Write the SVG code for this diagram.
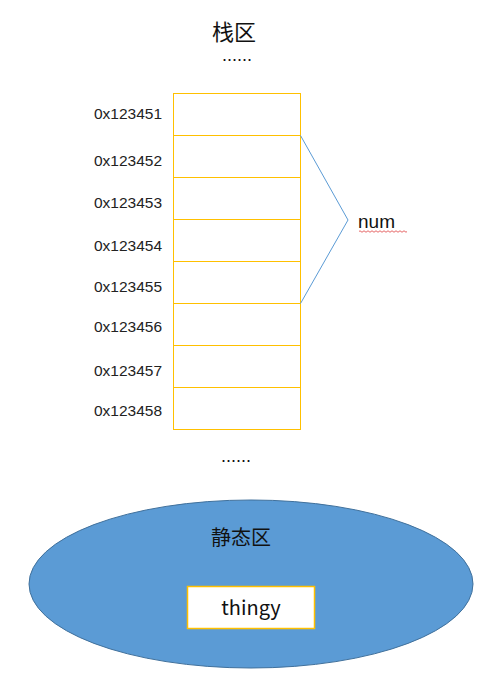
<svg xmlns="http://www.w3.org/2000/svg" width="493" height="691" viewBox="0 0 493 691">
<style>
.cell{fill:#fff;stroke:#FFC000;stroke-width:1}
.addr{font-family:"Liberation Sans","Noto Sans CJK SC",sans-serif;font-size:15.5px;fill:#222;text-anchor:end}
.t{font-family:"Noto Sans CJK SC","Liberation Sans",sans-serif;fill:#111;text-anchor:middle}
.dots{font-family:"Liberation Sans",sans-serif;font-size:18px;fill:#111;text-anchor:middle}
</style>
<rect width="493" height="691" fill="#fff"/>
<g id="title-stack"><text class="t" x="234" y="40" font-size="22">栈区</text></g>
<g id="dots-top"><text class="dots" x="237" y="61">......</text></g>
<g id="stack">
<rect class="cell" x="173.5" y="93.5" width="127" height="42"/>
<rect class="cell" x="173.5" y="135.5" width="127" height="42"/>
<rect class="cell" x="173.5" y="177.5" width="127" height="42"/>
<rect class="cell" x="173.5" y="219.5" width="127" height="42"/>
<rect class="cell" x="173.5" y="261.5" width="127" height="42"/>
<rect class="cell" x="173.5" y="303.5" width="127" height="42"/>
<rect class="cell" x="173.5" y="345.5" width="127" height="42"/>
<rect class="cell" x="173.5" y="387.5" width="127" height="42"/>
</g>
<g id="addresses">
<text class="addr" x="162" y="119">0x123451</text>
<text class="addr" x="162" y="166">0x123452</text>
<text class="addr" x="162" y="208">0x123453</text>
<text class="addr" x="162" y="251">0x123454</text>
<text class="addr" x="162" y="292">0x123455</text>
<text class="addr" x="162" y="332">0x123456</text>
<text class="addr" x="162" y="376">0x123457</text>
<text class="addr" x="162" y="416">0x123458</text>
</g>
<g id="connectors">
<polyline points="300.5,135.5 348,220 300.5,303.5" fill="none" stroke="#5B9BD5" stroke-width="1"/>
</g>
<g id="num">
<text x="358" y="228" font-family="Liberation Sans,sans-serif" font-size="19" fill="#111">num</text>
<path d="M359,231.5 q1,-1.5 2,0 t2,0 t2,0 t2,0 t2,0 t2,0 t2,0 t2,0 t2,0 t2,0 t2,0 t2,0 t2,0 t2,0 t2,0 t2,0 t2,0 t2,0 t2,0 t2,0 t2,0 t2,0 t2,0 t2,0" fill="none" stroke="#E04040" stroke-width="0.8"/>
</g>
<g id="dots-bottom"><text class="dots" x="236" y="462">......</text></g>
<g id="static">
<ellipse cx="251" cy="584" rx="222" ry="84" fill="#5B9BD5" stroke="#41719C" stroke-width="1"/>
<text class="t" x="241" y="545" font-size="20">静态区</text>
</g>
<g id="thingy">
<rect x="187.5" y="586.5" width="127" height="42" fill="#fff" stroke="#FFC000" stroke-width="1.5"/>
<text class="t" x="251" y="615" font-size="20">thingy</text>
</g>
</svg>
